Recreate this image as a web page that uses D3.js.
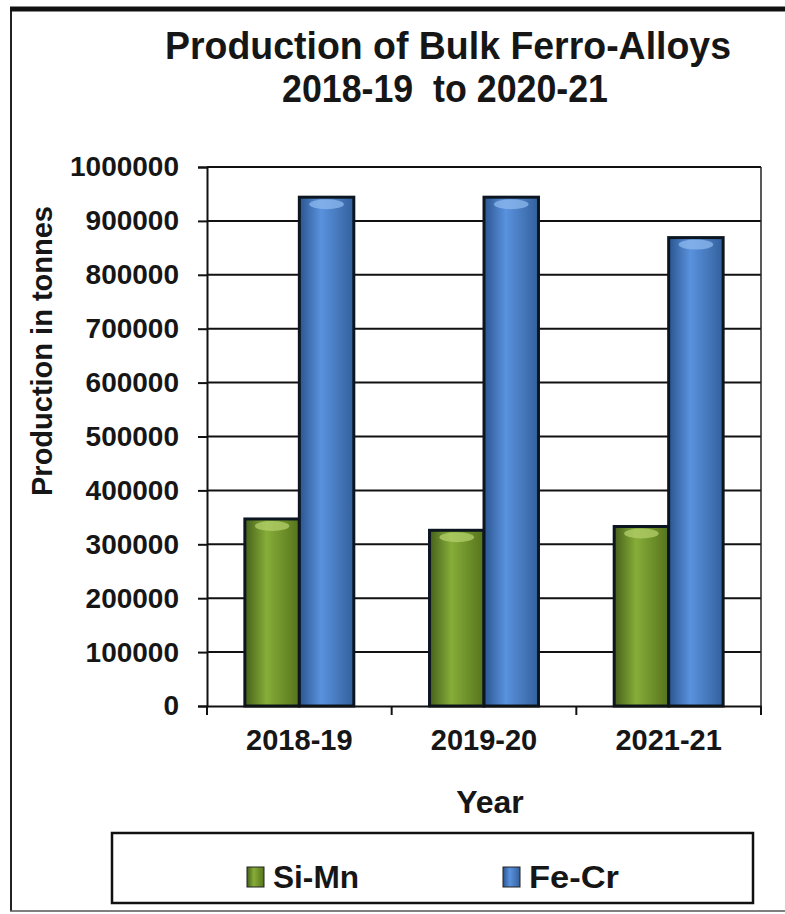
<!DOCTYPE html>
<html>
<head>
<meta charset="utf-8">
<script src="https://cdn.jsdelivr.net/npm/d3@7"></script>
<style>
  body { margin: 0; background: #fff; }
  text { font-family: "Liberation Sans", Arial, sans-serif; font-weight: bold; fill: #161616; white-space: pre; }
</style>
</head>
<body>
<div id="plot"></div>
<script>
// data
const years = ["2018-19", "2019-20", "2021-21"];
const series = ["Si-Mn", "Fe-Cr"];
const siMn = [347000, 326000, 333000];
const feCr = [944000, 944000, 869000];
const yTicks = [0, 100000, 200000, 300000, 400000, 500000, 600000, 700000, 800000, 900000, 1000000];
const colors = { "Si-Mn": ["#45601a", "#86ad38", "#56731c"], "Fe-Cr": ["#2a558f", "#5a92de", "#33609c"] };

const width = 785, height = 914;
const svg = d3.select("#plot").append("svg")
    .attr("width", width)
    .attr("height", height);

// gradients for the rounded bar look
const defs = svg.append("defs");
series.forEach((s, i) => {
    const g = defs.append("linearGradient").attr("id", "grad" + i)
        .attr("x1", "0%").attr("x2", "100%").attr("y1", "0%").attr("y2", "0%");
    g.append("stop").attr("offset", "0%").attr("stop-color", colors[s][0]);
    g.append("stop").attr("offset", "40%").attr("stop-color", colors[s][1]);
    g.append("stop").attr("offset", "100%").attr("stop-color", colors[s][2]);
});

// outer frame: left, top (thick) and bottom edges
svg.append("line").attr("x1", 11).attr("x2", 11).attr("y1", 9).attr("y2", 911)
    .attr("stroke", "#222").attr("stroke-width", 2);
svg.append("line").attr("x1", 10).attr("x2", 785).attr("y1", 911).attr("y2", 911)
    .attr("stroke", "#555").attr("stroke-width", 1.5);
svg.append("line").attr("x1", 10).attr("x2", 785).attr("y1", 9).attr("y2", 9)
    .attr("stroke", "#111").attr("stroke-width", 5);

// title
svg.append("text").attr("x", 448).attr("y", 59).attr("text-anchor", "middle")
    .style("font-size", "38px").attr("textLength", 566).attr("lengthAdjust", "spacingAndGlyphs")
    .text("Production of Bulk Ferro-Alloys");
svg.append("text").attr("x", 445).attr("y", 102).attr("text-anchor", "middle")
    .style("font-size", "38px").attr("textLength", 326).attr("lengthAdjust", "spacingAndGlyphs")
    .text("2018-19  to 2020-21");

const pLeft = 207, pRight = 761, pTop = 167, pBottom = 706;

const y = d3.scaleLinear().domain([0, 1000000]).range([pBottom, pTop]);
const x0 = d3.scaleBand().domain(years).range([pLeft, pRight]).padding(0);
const bw = x0.bandwidth();
const x1 = d3.scaleBand().domain(series).range([bw * 0.205, bw * 0.795]).padding(0);

// gridlines
svg.append("g").selectAll("line").data(yTicks.filter(d => d > 0)).enter().append("line")
    .attr("x1", pLeft).attr("x2", pRight)
    .attr("y1", d => y(d)).attr("y2", d => y(d))
    .attr("stroke", "#111").attr("stroke-width", 2);
svg.append("line").attr("x1", pRight).attr("x2", pRight).attr("y1", pTop).attr("y2", pBottom)
    .attr("stroke", "#222").attr("stroke-width", 1.5);

// bars
const rows = years.map((yr, i) => ({ year: yr, values: [siMn[i], feCr[i]] }));
const groups = svg.append("g").selectAll("g").data(rows).enter().append("g")
    .attr("transform", d => `translate(${x0(d.year)},0)`);
groups.selectAll("rect").data(d => d.values.map((v, i) => ({ s: series[i], v, i }))).enter().append("rect")
    .attr("x", d => x1(d.s))
    .attr("width", x1.bandwidth())
    .attr("y", d => y(d.v))
    .attr("height", d => pBottom - y(d.v))
    .attr("fill", d => `url(#grad${d.i})`)
    .attr("stroke", "#0c1620").attr("stroke-width", 3);
// highlight caps
groups.selectAll("ellipse").data(d => d.values.map((v, i) => ({ s: series[i], v, i }))).enter().append("ellipse")
    .attr("cx", d => x1(d.s) + x1.bandwidth() / 2)
    .attr("cy", d => y(d.v) + 7)
    .attr("rx", x1.bandwidth() / 2 - 10)
    .attr("ry", 5)
    .attr("fill", d => d.i === 0 ? "#b3cf6a" : "#8cb8ee")
    .attr("opacity", 0.75);

// y axis
const yAxis = svg.append("g").attr("transform", `translate(${pLeft},0)`)
    .call(d3.axisLeft(y).tickValues(yTicks).tickFormat(d3.format("d")).tickSize(9).tickPadding(19));
yAxis.selectAll("line, path").attr("stroke", "#111").attr("stroke-width", 2);
yAxis.selectAll("text").style("font-size", "28px").style("font-family", "Liberation Sans, Arial")
    .attr("fill", "#1c1c2c");

// x axis
const xAxis = svg.append("g").attr("transform", `translate(0,${pBottom})`)
    .call(d3.axisBottom(x0).tickSize(0).tickPadding(28));
xAxis.select("path").attr("stroke", "#111").attr("stroke-width", 2);
xAxis.selectAll("text").style("font-size", "29px").style("font-family", "Liberation Sans, Arial")
    .attr("fill", "#161616").attr("dy", "0.55em");
svg.append("g").selectAll("line").data(years.concat([null])).enter().append("line")
    .attr("x1", (d, i) => pLeft + i * bw).attr("x2", (d, i) => pLeft + i * bw)
    .attr("y1", pBottom).attr("y2", pBottom + 9)
    .attr("stroke", "#111").attr("stroke-width", 2);

// axis titles
svg.append("text").attr("x", 490).attr("y", 813).attr("text-anchor", "middle")
    .style("font-size", "32px").text("Year");
svg.append("text").attr("transform", "translate(52,351) rotate(-90)").attr("text-anchor", "middle")
    .style("font-size", "29px").text("Production in tonnes");

// legend
svg.append("rect").attr("x", 112).attr("y", 833).attr("width", 641).attr("height", 70)
    .attr("fill", "none").attr("stroke", "#111").attr("stroke-width", 2.5);
const lx = [247, 503];
series.forEach((s, i) => {
    svg.append("rect").attr("x", lx[i]).attr("y", 867).attr("width", 17).attr("height", 20)
        .attr("fill", `url(#grad${i})`).attr("stroke", "#222").attr("stroke-width", 1);
    svg.append("text").attr("x", lx[i] + 26).attr("y", 888).style("font-size", "32px")
        .attr("textLength", i === 0 ? 86 : 90).attr("lengthAdjust", "spacingAndGlyphs").text(s);
});
</script>
</body>
</html>
